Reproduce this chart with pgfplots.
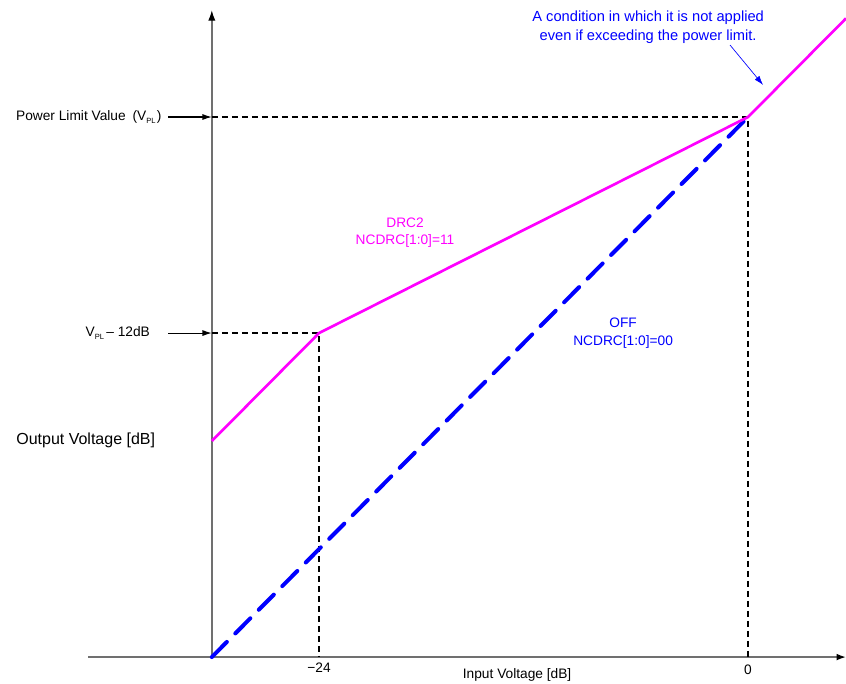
\documentclass[border=0pt]{standalone}
\usepackage{pgfplots}
\pgfplotsset{compat=1.18}
\usepackage{fontspec}
\setmainfont{Liberation Sans}
\usetikzlibrary{arrows.meta}
\definecolor{axgray}{HTML}{707070}
\definecolor{drcmag}{HTML}{FF00FF}
\definecolor{offblue}{HTML}{0000FF}
\newcommand{\vpl}{V\raisebox{-0.35ex}{\scalebox{0.55}{PL}}}
\begin{document}
\begin{tikzpicture}
\begin{axis}[
    scale only axis,
    width=634.5pt, height=512.25pt,
    xmin=-41.85, xmax=5.48,
    ymin=-31.44, ymax=6.5,
    axis lines=none,
    clip=false,
    font=\fontsize{10.3}{12}\selectfont,
]
% axes
\draw[axgray, line width=1.1pt, -{Latex[length=7pt,width=5pt,color=black]}] (axis cs:-36.92,-30) -- (axis cs:5.48,-30);
\draw[axgray, line width=1.1pt, -{Latex[length=8pt,width=5.5pt,color=black]}] (axis cs:-30,-30) -- (axis cs:-30,5.94);
% guide lines
\draw[black, line width=1.2pt, dash pattern=on 4.5pt off 3pt] (axis cs:-30,0) -- (axis cs:0,0) -- (axis cs:0,-30);
\draw[black, line width=1.2pt, dash pattern=on 4.5pt off 3pt] (axis cs:-30,-12) -- (axis cs:-24,-12) -- (axis cs:-24,-30);
% OFF
\addplot[offblue, line width=3pt, dash pattern=on 16pt off 9pt, line cap=round] coordinates {(-30,-30) (0,0)};
% DRC2
\addplot[drcmag, line width=2pt, line join=round] coordinates {(-30,-18) (-24,-12) (0,0) (5.48,5.48)};
% left labels
\node[anchor=east] at (axis cs:-32.55,0) {Power Limit Value\enspace(\vpl\kern1pt)};
\draw[black, line width=0.8pt, -{Latex[length=7pt,width=4.5pt]}] (axis cs:-32.45,0) -- (axis cs:-30,0);
\node[anchor=east] at (axis cs:-33.2,-12) {\vpl\,\textendash\ 12dB};
\draw[black, line width=0.8pt, -{Latex[length=7pt,width=4.5pt]}] (axis cs:-32.45,-12) -- (axis cs:-30,-12);
\node[anchor=west, font=\fontsize{12}{14}\selectfont] at (axis cs:-41.2,-17.94) {Output Voltage [dB]};
% x labels
\node at (axis cs:-24,-30.6) {\textminus24};
\node at (axis cs:0,-30.7) {0};
\node at (axis cs:-12.92,-31.0) {Input Voltage [dB]};
% series labels
\node[drcmag, align=center, font=\fontsize{10.3}{12.75}\selectfont] at (axis cs:-19.19,-6.4) {DRC2\\NCDRC[1:0]=11};
\node[offblue, align=center, font=\fontsize{10.3}{13.5}\selectfont] at (axis cs:-6.99,-12.0) {OFF\\NCDRC[1:0]=00};
% top annotation
\node[offblue, align=center, font=\fontsize{11}{14.25}\selectfont] at (axis cs:-5.59,5.0) {A condition in which it is not applied\\even if exceeding the power limit.};
\draw[offblue, line width=0.5pt, -{Latex[length=7pt,width=4.5pt]}] (axis cs:-1.01,4.0) -- (axis cs:0.84,1.78);
\end{axis}
\pgfresetboundingbox
\path (current axis.south west) rectangle (current axis.north east);
\end{tikzpicture}
\end{document}
